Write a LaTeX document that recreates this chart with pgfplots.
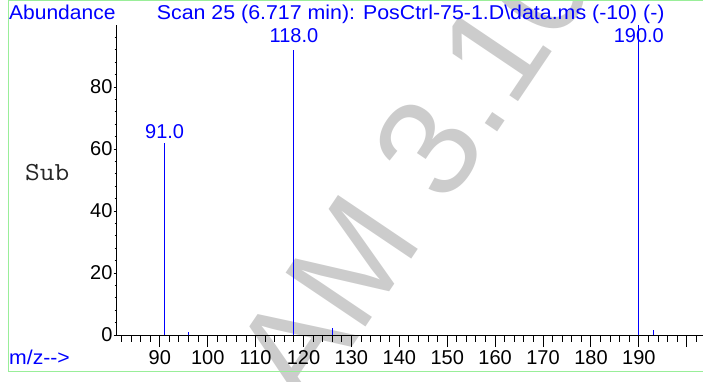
\documentclass[border=0pt]{standalone}
\usepackage{graphicx}
\usepackage{pgfplots}
\pgfplotsset{compat=1.18}
\usepackage{fontspec}
\setmainfont{Liberation Sans}
\definecolor{framegreen}{HTML}{99EE99}
\definecolor{wm}{HTML}{CCCCCC}
\newcommand\F{\fontsize{20bp}{24bp}\selectfont}
\begin{document}
\begin{tikzpicture}[x=1bp,y=1bp]
\useasboundingbox (0,0) rectangle (703,381);
\clip (0,0) rectangle (703,381);
\node[text=wm, rotate=56, anchor=base west, inner sep=0, font=\fontsize{140bp}{140bp}\selectfont] at (307.5,-32.8) {AM 3.10};
\draw[framegreen, line width=1bp] (8.3,10) rectangle (720,380.5);
\node[blue, anchor=base west, inner sep=0, font=\F] at (9,362) {\scalebox{1.05}[1]{Abundance}};
\node[blue, anchor=base west, inner sep=0, font=\F] at (156.7,362) {\scalebox{1.068}[1]{Scan 25 (6.717 min): PosCtrl-75-1.D\textbackslash data.ms (-10) (-)}};
\node[blue, anchor=base west, inner sep=0, font=\F] at (9,17) {\scalebox{1.06}[1]{m/z{-}{-}{>}}};
\node[black!85, anchor=base west, inner sep=0, font=\ttfamily\fontsize{26bp}{30bp}\selectfont] at (25,200.3) {\scalebox{1.1}[1]{Sub}};
\begin{axis}[
  at={(116.7bp,46bp)}, anchor=south west, scale only axis,
  width=589.2bp, height=310bp,
  xmin=81, xmax=204, ymin=0, ymax=100,
  axis x line*=bottom, axis y line*=left,
  axis line style={black, line width=1bp},
  clip=false,
  xtick={90,100,...,200},
  xticklabels={90,100,110,120,130,140,150,160,170,180,190,{}},
  minor xtick={82,84,...,202},
  ytick={0,20,...,80},
  minor ytick={4,8,...,96},
  tick align=outside,
  xtick style={black, line width=1bp, /pgfplots/major tick length=12bp, /pgfplots/minor tick length=6.5bp},
  ytick style={black, line width=0.8bp, /pgfplots/major tick length=3bp, /pgfplots/minor tick length=2bp},
  /pgf/number format/assume math mode=true,
  tick label style={black, font=\F},
  xticklabel style={yshift=-8bp},
  yticklabel style={xshift=3.5bp},
]
\addplot[ycomb, blue, line width=1bp, mark=none] coordinates {
  (91,61.8) (96,0.9) (118,92) (126,2.3) (190,100) (193,1.6)
};
\node[blue, anchor=base, inner sep=0, font=\F] at (axis cs:91,63.5) {91.0};
\node[blue, anchor=base, inner sep=0, font=\F] at (axis cs:118,94.2) {118.0};
\node[blue, anchor=base, inner sep=0, font=\F] at (axis cs:190,94.2) {190.0};
\end{axis}
\end{tikzpicture}
\end{document}
